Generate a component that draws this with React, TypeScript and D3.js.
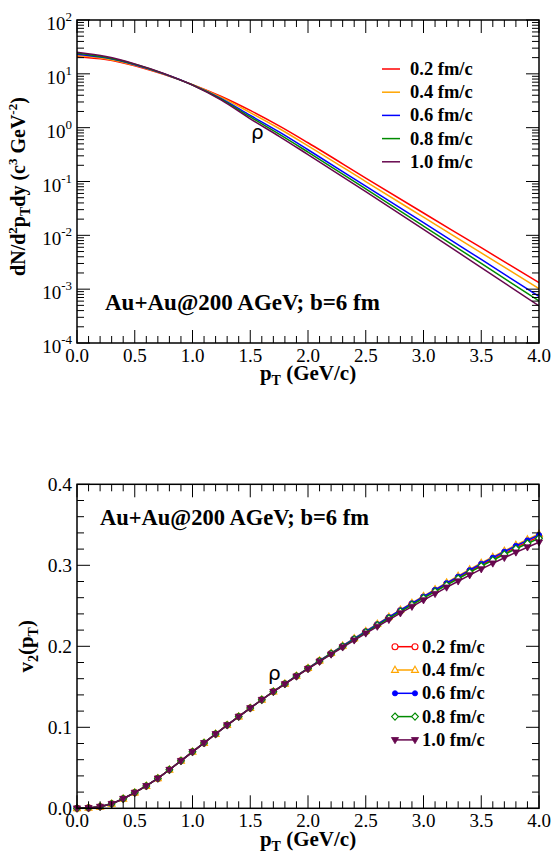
import React from "react";
import * as d3 from "d3";

// ---------- data ----------
const SERIES_LABELS = ["0.2 fm/c", "0.4 fm/c", "0.6 fm/c", "0.8 fm/c", "1.0 fm/c"];
const SERIES_COLORS = ["#ff0000", "#ffa500", "#0000ff", "#008b00", "#67074e"];
const SERIES_MARKERS = ["circleOpen", "triUpOpen", "circleFilled", "diamondOpen", "triDownFilled"];

const PT_SPEC = [0, 0.25, 0.5, 0.75, 1.0, 1.25, 1.5, 1.75, 2.0, 2.5, 3.0, 3.5, 4.0];
const SPEC_02 = [20.8, 18.4, 14.1, 9.77, 6.31, 3.8, 2.09, 1.08, 0.525, 0.116, 0.026, 5.89e-3, 1.32e-3];
const SPEC_04 = [21.8, 19.0, 14.4, 9.89, 6.27, 3.65, 1.91, 0.964, 0.46, 0.0998, 0.0217, 4.72e-3, 1.02e-3];
const SPEC_06 = [23.2, 19.8, 14.8, 10.05, 6.22, 3.46, 1.69, 0.832, 0.389, 0.0822, 0.0172, 3.56e-3, 7.35e-4];
const SPEC_08 = [24.2, 20.3, 15.1, 10.1, 6.19, 3.35, 1.58, 0.76, 0.352, 0.0731, 0.0149, 3.01e-3, 6.03e-4];
const SPEC_10 = [25.1, 20.9, 15.3, 10.2, 6.17, 3.24, 1.46, 0.692, 0.316, 0.0646, 0.0129, 2.51e-3, 4.9e-4];

const PT_V2 = [
  0.0, 0.1, 0.2, 0.3, 0.4, 0.5, 0.6, 0.7, 0.8, 0.9, 1.0, 1.1, 1.2, 1.3, 1.4, 1.5, 1.6, 1.7, 1.8, 1.9, 2.0,
  2.1, 2.2, 2.3, 2.4, 2.5, 2.6, 2.7, 2.8, 2.9, 3.0, 3.1, 3.2, 3.3, 3.4, 3.5, 3.6, 3.7, 3.8, 3.9, 4.0,
];
const V2_02 = [
  0.0, 0.0005, 0.002, 0.0055, 0.0118, 0.0193, 0.0276, 0.0369, 0.0476, 0.0586, 0.0697, 0.0807, 0.0917, 0.1027,
  0.1132, 0.1237, 0.134, 0.1441, 0.1537, 0.1633, 0.1727, 0.182, 0.1911, 0.2001, 0.209, 0.2179, 0.2266, 0.2352,
  0.2437, 0.2521, 0.2604, 0.2686, 0.2767, 0.2847, 0.2926, 0.3004, 0.3078, 0.3151, 0.3222, 0.3289, 0.3353,
];
const V2_04 = [
  0.0, 0.0005, 0.002, 0.0055, 0.0118, 0.0193, 0.0276, 0.0369, 0.0476, 0.0586, 0.0697, 0.0807, 0.0917, 0.1027,
  0.1132, 0.1237, 0.134, 0.1441, 0.1538, 0.1635, 0.173, 0.1823, 0.1916, 0.2007, 0.2098, 0.2187, 0.2276, 0.2363,
  0.245, 0.2535, 0.262, 0.2703, 0.2786, 0.2868, 0.2948, 0.3028, 0.3103, 0.3178, 0.3251, 0.3319, 0.3386,
];
const V2_06 = [
  0.0, 0.0005, 0.002, 0.0055, 0.0118, 0.0193, 0.0276, 0.0369, 0.0476, 0.0586, 0.0697, 0.0807, 0.0917, 0.1027,
  0.1132, 0.1237, 0.134, 0.1441, 0.1538, 0.1634, 0.1729, 0.1822, 0.1914, 0.2005, 0.2095, 0.2184, 0.2272, 0.2359,
  0.2445, 0.253, 0.2614, 0.2697, 0.2779, 0.286, 0.294, 0.3019, 0.3094, 0.3168, 0.324, 0.3308, 0.3374,
];
const V2_08 = [
  0.0, 0.0005, 0.002, 0.0055, 0.0118, 0.0193, 0.0276, 0.0369, 0.0476, 0.0586, 0.0697, 0.0807, 0.0917, 0.1027,
  0.1132, 0.1237, 0.134, 0.144, 0.1536, 0.1632, 0.1725, 0.1817, 0.1908, 0.1997, 0.2086, 0.2173, 0.2259, 0.2345,
  0.2429, 0.2512, 0.2594, 0.2675, 0.2755, 0.2834, 0.2912, 0.2989, 0.3062, 0.3134, 0.3204, 0.3269, 0.3333,
];
const V2_10 = [
  0.0, 0.0005, 0.002, 0.0055, 0.0118, 0.0193, 0.0276, 0.0369, 0.0476, 0.0586, 0.0697, 0.0807, 0.0917, 0.1027,
  0.1132, 0.1237, 0.134, 0.1439, 0.1534, 0.1629, 0.1721, 0.1811, 0.19, 0.1988, 0.2074, 0.216, 0.2244, 0.2327,
  0.2409, 0.249, 0.257, 0.2648, 0.2727, 0.2803, 0.2879, 0.2953, 0.3024, 0.3093, 0.316, 0.3223, 0.3284,
];

const X_TICKS = [0, 0.5, 1.0, 1.5, 2.0, 2.5, 3.0, 3.5, 4.0];
const X_TICK_LABELS = ["0.0", "0.5", "1.0", "1.5", "2.0", "2.5", "3.0", "3.5", "4.0"];
const LOG_DECADES = [-4, -3, -2, -1, 0, 1, 2];
const V2_TICKS = [0, 0.1, 0.2, 0.3, 0.4];
const V2_TICK_LABELS = ["0.0", "0.1", "0.2", "0.3", "0.4"];
const ANNOT = "Au+Au@200 AGeV; b=6 fm";

// ---------- layout ----------
const W = 553;
const H = 855;
const SERIF = "'Liberation Serif', 'Times New Roman', Times, serif";
const L = 77;
const R = 539;
const T1 = 20;
const B1 = 343;
const T2 = 484.3;
const B2 = 808.3;
const MAJ = 13;
const MIN = 7;

const x = d3.scaleLinear().domain([0, 4]).range([L, R]);
const yLog = d3.scaleLog().domain([1e-4, 1e2]).range([B1, T1]);
const yV2 = d3.scaleLinear().domain([0, 0.4]).range([B2, T2]);

const specSeries = [SPEC_02, SPEC_04, SPEC_06, SPEC_08, SPEC_10];
const v2Series = [V2_02, V2_04, V2_06, V2_08, V2_10];

function Marker({ kind, cx, cy, color }: { kind: string; cx: number; cy: number; color: string }) {
  const sw = 1.1;
  if (kind === "circleOpen") return <circle cx={cx} cy={cy} r={3} fill="white" stroke={color} strokeWidth={sw} />;
  if (kind === "circleFilled") return <circle cx={cx} cy={cy} r={2.6} fill={color} stroke={color} strokeWidth={0.8} />;
  if (kind === "triUpOpen")
    return (
      <path
        d={`M${cx},${cy - 3.8}L${cx + 3.5},${cy + 2.4}L${cx - 3.5},${cy + 2.4}Z`}
        fill="white"
        stroke={color}
        strokeWidth={sw}
      />
    );
  if (kind === "diamondOpen")
    return (
      <path
        d={`M${cx},${cy - 3.6}L${cx + 3.4},${cy}L${cx},${cy + 3.6}L${cx - 3.4},${cy}Z`}
        fill="white"
        stroke={color}
        strokeWidth={sw}
      />
    );
  return (
    <path
      d={`M${cx},${cy + 3.8}L${cx + 3.6},${cy - 2.4}L${cx - 3.6},${cy - 2.4}Z`}
      fill={color}
      stroke={color}
      strokeWidth={0.8}
    />
  );
}

function XTicks({ top, bottom }: { top: number; bottom: number }) {
  const minors = d3.range(0, 41).map((i) => i / 10).filter((v) => Math.abs(v * 2 - Math.round(v * 2)) > 1e-6);
  const els: any[] = [];
  X_TICKS.forEach((v, i) => {
    const px = x(v);
    els.push(<line key={"xb" + i} x1={px} x2={px} y1={bottom} y2={bottom - MAJ} />);
    els.push(<line key={"xt" + i} x1={px} x2={px} y1={top} y2={top + MAJ} />);
  });
  minors.forEach((v, i) => {
    const px = x(v);
    els.push(<line key={"mb" + i} x1={px} x2={px} y1={bottom} y2={bottom - MIN} />);
    els.push(<line key={"mt" + i} x1={px} x2={px} y1={top} y2={top + MIN} />);
  });
  return <g stroke="#000" strokeWidth={1}>{els}</g>;
}

function XLabels({ bottom }: { bottom: number }) {
  return (
    <g fontFamily={SERIF} fontSize={19} textAnchor="middle" fill="#000">
      {X_TICKS.map((v, i) => (
        <text key={i} x={x(v)} y={bottom + 19}>
          {X_TICK_LABELS[i]}
        </text>
      ))}
    </g>
  );
}

function XTitle({ y }: { y: number }) {
  return (
    <text x={(L + R) / 2} y={y} textAnchor="middle" fontFamily={SERIF} fontWeight="bold" fontSize={21} fill="#000">
      <tspan>p</tspan>
      <tspan dy={5} fontSize={14}>T</tspan>
      <tspan dy={-5}> (GeV/c)</tspan>
    </text>
  );
}

export default function App() {
  const lineSpec = d3
    .line<[number, number]>()
    .x((d) => x(d[0]))
    .y((d) => yLog(d[1]))
    .curve(d3.curveMonotoneX);
  const lineV2 = d3
    .line<[number, number]>()
    .x((d) => x(d[0]))
    .y((d) => yV2(d[1]));

  // log ticks
  const logMajors = LOG_DECADES.map((e) => Math.pow(10, e));
  const logMinors: number[] = [];
  LOG_DECADES.slice(0, -1).forEach((e) => {
    for (let k = 2; k <= 9; k++) logMinors.push(k * Math.pow(10, e));
  });
  const v2Minors = d3.range(0, 21).map((i) => i * 0.02).filter((_, i) => i % 5 !== 0);

  return (
    <svg width={W} height={H} style={{ position: "absolute", left: 0, top: 0, background: "white" }}>
      <rect x={0} y={0} width={W} height={H} fill="white" />

      {/* ================= TOP PANEL ================= */}
      <defs>
        <clipPath id="clipTop">
          <rect x={L} y={T1} width={R - L} height={B1 - T1} />
        </clipPath>
        <clipPath id="clipBot">
          <rect x={L - 6} y={T2 - 6} width={R - L + 12} height={B2 - T2 + 12} />
        </clipPath>
      </defs>

      <g clipPath="url(#clipTop)" fill="none" strokeWidth={1.5}>
        {specSeries.map((s, i) => (
          <path
            key={i}
            d={lineSpec(PT_SPEC.map((p, j) => [p, s[j]] as [number, number])) || ""}
            stroke={SERIES_COLORS[i]}
          />
        ))}
      </g>

      <XTicks top={T1} bottom={B1} />
      <g stroke="#000" strokeWidth={1}>
        {logMajors.map((v, i) => (
          <g key={"lm" + i}>
            <line x1={L} x2={L + MAJ} y1={yLog(v)} y2={yLog(v)} />
            <line x1={R} x2={R - MAJ} y1={yLog(v)} y2={yLog(v)} />
          </g>
        ))}
        {logMinors.map((v, i) => (
          <g key={"ln" + i}>
            <line x1={L} x2={L + MIN} y1={yLog(v)} y2={yLog(v)} />
            <line x1={R} x2={R - MIN} y1={yLog(v)} y2={yLog(v)} />
          </g>
        ))}
      </g>
      <rect x={L} y={T1} width={R - L} height={B1 - T1} fill="none" stroke="#000" strokeWidth={1.5} />

      <XLabels bottom={B1} />
      <g fontFamily={SERIF} fill="#000" textAnchor="end">
        {LOG_DECADES.map((e, i) => (
          <text key={i} x={72} y={yLog(Math.pow(10, e)) + 10} fontSize={19}>
            <tspan>10</tspan>
            <tspan dy={-9} fontSize={13}>
              {e < 0 ? "-" + Math.abs(e) : String(e)}
            </tspan>
          </text>
        ))}
      </g>
      <XTitle y={380} />
      <text
        transform={`translate(25, ${(T1 + B1) / 2 + 5}) rotate(-90)`}
        textAnchor="middle"
        fontFamily={SERIF}
        fontWeight="bold"
        fontSize={20}
        fill="#000"
      >
        <tspan>dN/d</tspan>
        <tspan dy={-8} fontSize={13}>2</tspan>
        <tspan dy={8}>p</tspan>
        <tspan dy={5} fontSize={14}>T</tspan>
        <tspan dy={-5}>dy (c</tspan>
        <tspan dy={-8} fontSize={13}>3</tspan>
        <tspan dy={8}> GeV</tspan>
        <tspan dy={-8} fontSize={13}>-2</tspan>
        <tspan dy={8}>)</tspan>
      </text>

      {/* legend top */}
      {SERIES_LABELS.map((lab, i) => {
        const ry = 69 + i * 23.2;
        return (
          <g key={"lt" + i}>
            <line x1={382} x2={400} y1={ry} y2={ry} stroke={SERIES_COLORS[i]} strokeWidth={1.5} />
            <text x={410} y={ry + 6} fontFamily={SERIF} fontWeight="bold" fontSize={18.5} fill="#000">
              {lab}
            </text>
          </g>
        );
      })}
      <text x={251} y={139} fontFamily="'DejaVu Sans', sans-serif" fontSize={20} fill="#000">
        ρ
      </text>
      <text x={105} y={310} fontFamily={SERIF} fontWeight="bold" fontSize={23} fill="#000">
        {ANNOT}
      </text>

      {/* ================= BOTTOM PANEL ================= */}
      <g clipPath="url(#clipBot)">
        {v2Series.map((s, i) => (
          <g key={i}>
            <path
              d={lineV2(PT_V2.map((p, j) => [p, s[j]] as [number, number])) || ""}
              fill="none"
              stroke={SERIES_COLORS[i]}
              strokeWidth={1.5}
            />
            {PT_V2.map((p, j) => (
              <Marker key={j} kind={SERIES_MARKERS[i]} cx={x(p)} cy={yV2(s[j])} color={SERIES_COLORS[i]} />
            ))}
          </g>
        ))}
      </g>

      <XTicks top={T2} bottom={B2} />
      <g stroke="#000" strokeWidth={1}>
        {V2_TICKS.map((v, i) => (
          <g key={"vm" + i}>
            <line x1={L} x2={L + MAJ} y1={yV2(v)} y2={yV2(v)} />
            <line x1={R} x2={R - MAJ} y1={yV2(v)} y2={yV2(v)} />
          </g>
        ))}
        {v2Minors.map((v, i) => (
          <g key={"vn" + i}>
            <line x1={L} x2={L + MIN} y1={yV2(v)} y2={yV2(v)} />
            <line x1={R} x2={R - MIN} y1={yV2(v)} y2={yV2(v)} />
          </g>
        ))}
      </g>
      <rect x={L} y={T2} width={R - L} height={B2 - T2} fill="none" stroke="#000" strokeWidth={1.5} />

      <XLabels bottom={B2} />
      <g fontFamily={SERIF} fontSize={19.5} fill="#000" textAnchor="end">
        {V2_TICKS.map((v, i) => (
          <text key={i} x={72} y={yV2(v) + 7}>
            {V2_TICK_LABELS[i]}
          </text>
        ))}
      </g>
      <XTitle y={846} />
      <text
        transform={`translate(33, ${(T2 + B2) / 2}) rotate(-90)`}
        textAnchor="middle"
        fontFamily={SERIF}
        fontWeight="bold"
        fontSize={21}
        fill="#000"
      >
        <tspan>v</tspan>
        <tspan dy={5} fontSize={14}>2</tspan>
        <tspan dy={-5}>(p</tspan>
        <tspan dy={5} fontSize={14}>T</tspan>
        <tspan dy={-5}>)</tspan>
      </text>

      {/* legend bottom */}
      {SERIES_LABELS.map((lab, i) => {
        const ry = 646.7 + i * 23.3;
        return (
          <g key={"lb" + i}>
            <line x1={395} x2={415} y1={ry} y2={ry} stroke={SERIES_COLORS[i]} strokeWidth={1.5} />
            <Marker kind={SERIES_MARKERS[i]} cx={395} cy={ry} color={SERIES_COLORS[i]} />
            <Marker kind={SERIES_MARKERS[i]} cx={415} cy={ry} color={SERIES_COLORS[i]} />
            <text x={422} y={ry + 6} fontFamily={SERIF} fontWeight="bold" fontSize={18.5} fill="#000">
              {lab}
            </text>
          </g>
        );
      })}
      <text x={268} y={680} fontFamily="'DejaVu Sans', sans-serif" fontSize={20} fill="#000">
        ρ
      </text>
      <text x={100} y={525} fontFamily={SERIF} fontWeight="bold" fontSize={22.5} fill="#000">
        {ANNOT}
      </text>
    </svg>
  );
}
